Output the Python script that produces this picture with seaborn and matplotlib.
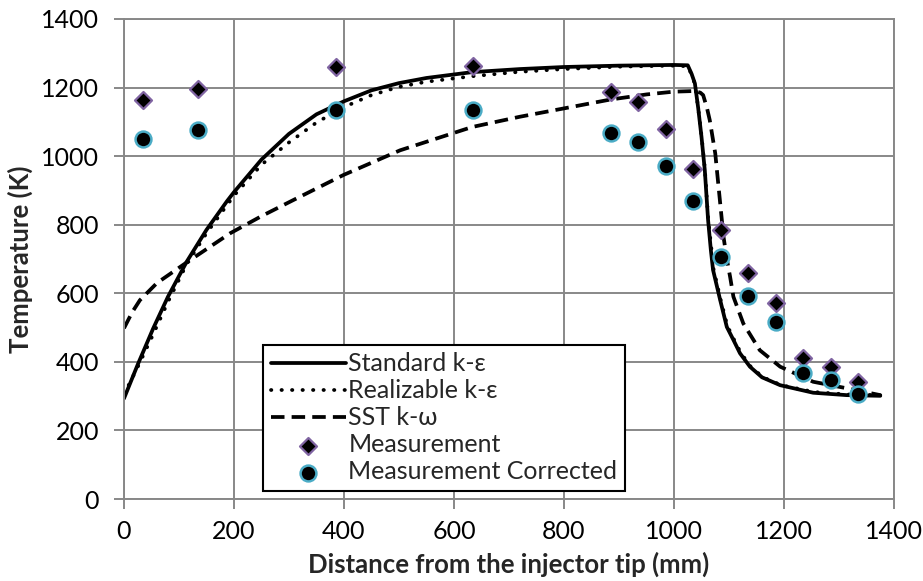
import numpy as np
import pandas as pd
import seaborn as sns
import matplotlib.pyplot as plt

# model curves (mm, K)
std_x = [0, 25, 53, 80, 114, 150, 187, 200, 250, 300, 350, 400, 450, 500, 550, 633, 720, 800, 900,
         1000, 1025, 1032, 1038, 1044, 1050, 1056, 1062, 1067, 1071, 1084, 1096, 1108,
         1120, 1138, 1160, 1193, 1253, 1314, 1375]
std_T = [293, 392, 497, 590, 692, 785, 868, 895, 990, 1065, 1122, 1160, 1192, 1213, 1228, 1245, 1254, 1260, 1264,
         1266, 1265, 1240, 1212, 1140, 1056, 959, 813, 726, 668, 580, 502, 464,
         425, 386, 355, 332, 310, 303, 301]

real_x = [0, 25, 53, 80, 114, 150, 200, 250, 300, 350, 400, 450, 500, 550, 633, 720, 800, 900,
          1000, 1025, 1032, 1038, 1044, 1050, 1056, 1062, 1068, 1072, 1085, 1097, 1110,
          1122, 1140, 1162, 1195, 1255, 1315, 1375]
real_T = [305, 385, 480, 575, 685, 775, 885, 975, 1040, 1098, 1143, 1178, 1202, 1217, 1233, 1246, 1254, 1261,
          1264, 1262, 1238, 1210, 1140, 1060, 965, 820, 730, 670, 580, 505, 462,
          425, 385, 355, 332, 312, 305, 303]

sst_x = [0, 15, 29, 60, 114, 193, 250, 308, 399, 502, 633, 720, 799, 884, 950, 999, 1038,
         1048, 1053, 1060, 1065, 1075, 1084, 1090, 1096, 1102, 1108, 1126, 1156, 1193,
         1253, 1314, 1375]
sst_T = [498, 545, 580, 630, 690, 775, 825, 872, 945, 1017, 1085, 1115, 1139, 1165, 1180, 1188, 1190,
         1185, 1178, 1140, 1105, 1008, 862, 765, 700, 648, 590, 512, 434, 386,
         342, 323, 303]

# measurements
meas_x = [35, 135, 385, 635, 885, 935, 985, 1035, 1085, 1135, 1185, 1235, 1285, 1335]
meas_T = [1165, 1195, 1260, 1262, 1186, 1157, 1080, 963, 784, 659, 573, 410, 386, 342]
corr_T = [1049, 1075, 1134, 1134, 1068, 1042, 972, 869, 705, 593, 517, 368, 347, 305]

sns.set_theme(style="white")
plt.rcParams['font.family'] = ['Lato', 'DejaVu Sans']

grid_c = '#888888'
fig = plt.figure(figsize=(9.23, 5.81), dpi=100)
ax = fig.add_axes([0.1343, 0.1411, 0.8343, 0.8262])

lw = 2.7
sns.lineplot(x=std_x, y=std_T, ax=ax, color='black', lw=lw, label='Standard k-ε', sort=False)
sns.lineplot(x=real_x, y=real_T, ax=ax, color='black', lw=lw, label='Realizable k-ε', sort=False,
             linestyle=(0, (0.1, 2.7)), dash_capstyle='round')
sns.lineplot(x=sst_x, y=sst_T, ax=ax, color='black', lw=lw, label='SST k-ω', sort=False,
             linestyle=(0, (3.6, 1.9)))
sns.scatterplot(x=meas_x, y=meas_T, ax=ax, marker='D', s=75, color='black',
                edgecolor='#8064A2', linewidth=1.6, label='Measurement', zorder=5)
sns.scatterplot(x=meas_x, y=corr_T, ax=ax, marker='o', s=130, color='black',
                edgecolor='#4BACC6', linewidth=1.8, label='Measurement Corrected', zorder=5)

ax.set_xlim(0, 1400)
ax.set_ylim(0, 1400)
ax.set_xticks(np.arange(0, 1401, 200))
ax.set_yticks(np.arange(0, 1401, 200))
ax.grid(True, color=grid_c, lw=1.4)
for s in ax.spines.values():
    s.set_color(grid_c)
    s.set_linewidth(1.4)
ax.tick_params(axis='both', which='major', length=7, width=1.4, color=grid_c,
               labelsize=18, labelcolor='black', direction='out')
ax.tick_params(axis='y', pad=11)
ax.tick_params(axis='x', pad=8)
ax.tick_params(bottom=True, left=True)

ax.set_xlabel('Distance from the injector tip (mm)', fontsize=18.5, fontweight='bold', labelpad=6)
ax.set_ylabel('Temperature (K)', fontsize=18.5, fontweight='bold', labelpad=6)

leg = ax.legend(loc='lower left', bbox_to_anchor=(0.181, 0.017), fontsize=18,
                handlelength=3.0, handletextpad=0.1, labelspacing=0.16,
                borderpad=0.3, borderaxespad=0, fancybox=False, framealpha=1)
leg.get_frame().set_edgecolor('black')
leg.get_frame().set_linewidth(1.5)

fig.savefig('out.png', dpi=100)
